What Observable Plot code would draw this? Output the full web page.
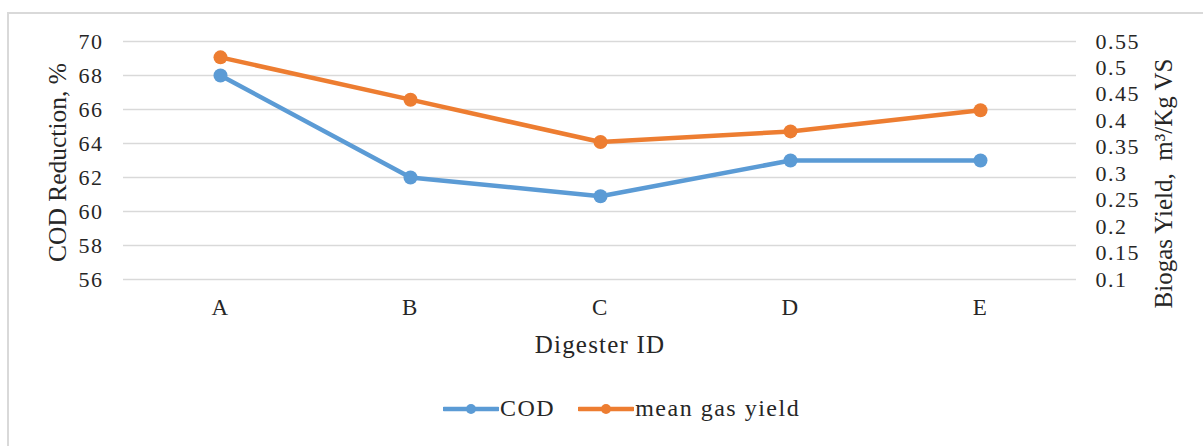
<!DOCTYPE html>
<html>
<head>
<meta charset="utf-8">
<script src="https://cdn.jsdelivr.net/npm/d3@7"></script>
<script src="https://cdn.jsdelivr.net/npm/@observablehq/plot@0.6"></script>
<style>
  html, body { margin: 0; padding: 0; background: #fff; }
  #wrap { position: relative; width: 1203px; height: 446px; overflow: hidden; font-family: "Liberation Serif", "Times New Roman", Times, "DejaVu Serif", serif; }
  #chart svg, #chart svg text { font-family: "Liberation Serif", "Times New Roman", Times, "DejaVu Serif", serif !important; }
  #chart svg text { letter-spacing: 1.5px; }
  #chart svg .vtitle text { letter-spacing: 0px; }
  #chart svg .xtitle text { letter-spacing: 1.2px; }
  #frame { position: absolute; left: 7px; top: 12px; width: 1210px; height: 450px; border-left: 2px solid #d9d9d9; border-top: 2px solid #d9d9d9; box-sizing: border-box; }
  #chart { position: absolute; left: 0; top: 0; }
  #legend { position: absolute; left: 443px; top: 395px; display: flex; align-items: center; font-size: 24px; letter-spacing: 1.5px; color: #262626; }
  #legend .item { display: flex; align-items: center; margin-right: 23px; }
  #legend svg { display: block; margin-right: 1px; }
</style>
</head>
<body>
<div id="wrap">
  <div id="frame"></div>
  <div id="chart"></div>
  <div id="legend"></div>
</div>
<script>
const digesters = ["A", "B", "C", "D", "E"];
const codReduction = [68, 62, 60.9, 63, 63];
const meanGasYield = [0.52, 0.44, 0.36, 0.38, 0.42];
const leftTicks = [56, 58, 60, 62, 64, 66, 68, 70];
const rightTicks = [0.1, 0.15, 0.2, 0.25, 0.3, 0.35, 0.4, 0.45, 0.5, 0.55];
const seriesNames = ["COD", "mean gas yield"];
const seriesColors = ["#5b9bd5", "#ed7d31"];

// map right-axis (gas yield) onto left-axis (COD) scale
const lMin = 56, lMax = 70, rMin = 0.1, rMax = 0.55;
const toLeft = g => lMin + (g - rMin) / (rMax - rMin) * (lMax - lMin);
const toRight = v => rMin + (v - lMin) / (lMax - lMin) * (rMax - rMin);

const codData = digesters.map((d, i) => ({id: d, v: codReduction[i]}));
const gasData = digesters.map((d, i) => ({id: d, v: toLeft(meanGasYield[i])}));

const font = "'Liberation Serif', 'Times New Roman', Times, 'DejaVu Serif', serif";
const W = 1203, H = 372;
const ink = "#262626";

const plot = Plot.plot({
  width: W,
  height: H,
  marginLeft: 123,
  marginRight: 127,
  marginTop: 41,
  marginBottom: H - 279,
  style: {fontFamily: font, fontSize: "22px", color: ink, background: "transparent", overflow: "visible"},
  x: {type: "point", domain: digesters, padding: 0.5, label: null},
  y: {domain: [lMin, lMax], label: null},
  marks: [
    Plot.gridY(leftTicks, {stroke: "#d9d9d9", strokeOpacity: 1, strokeWidth: 1.5}),
    Plot.axisY(leftTicks, {anchor: "left", tickSize: 0, tickPadding: 20, label: null, fontSize: 22, fill: ink}),
    Plot.axisY(rightTicks.map(toLeft), {anchor: "right", tickSize: 0, tickPadding: 19, label: null, fontSize: 22, fill: ink,
      tickFormat: v => String(+toRight(v).toFixed(2))}),
    Plot.axisX(digesters, {anchor: "bottom", tickSize: 0, tickPadding: 19, label: null, fontSize: 23, fill: ink}),
    Plot.line(codData, {x: "id", y: "v", stroke: seriesColors[0], strokeWidth: 4.5}),
    Plot.dot(codData, {x: "id", y: "v", r: 7, fill: seriesColors[0]}),
    Plot.line(gasData, {x: "id", y: "v", stroke: seriesColors[1], strokeWidth: 4.5}),
    Plot.dot(gasData, {x: "id", y: "v", r: 7, fill: seriesColors[1]}),
    Plot.text(["COD Reduction, %"], {className: "vtitle", frameAnchor: "left", textAnchor: "middle", dx: -66, dy: 2, rotate: -90, fontSize: 25.5, fill: ink}),
    Plot.text(["Biogas Yield,  m³/Kg VS"], {className: "vtitle", frameAnchor: "right", textAnchor: "middle", dx: 87, dy: 23, rotate: -90, fontSize: 25, fill: ink}),
    Plot.text(["Digester ID"], {className: "xtitle", frameAnchor: "bottom", dy: 73, fontSize: 25, fill: ink})
  ]
});
document.getElementById("chart").appendChild(plot);

// legend
const legend = document.getElementById("legend");
seriesNames.forEach((name, i) => {
  const item = document.createElement("div");
  item.className = "item";
  item.innerHTML = `<svg width="56" height="14"><line x1="1" y1="7" x2="55" y2="7" stroke="${seriesColors[i]}" stroke-width="4.5" stroke-linecap="round"/><circle cx="28" cy="7" r="5" fill="${seriesColors[i]}"/></svg><span>${name}</span>`;
  legend.appendChild(item);
});
</script>
</body>
</html>
